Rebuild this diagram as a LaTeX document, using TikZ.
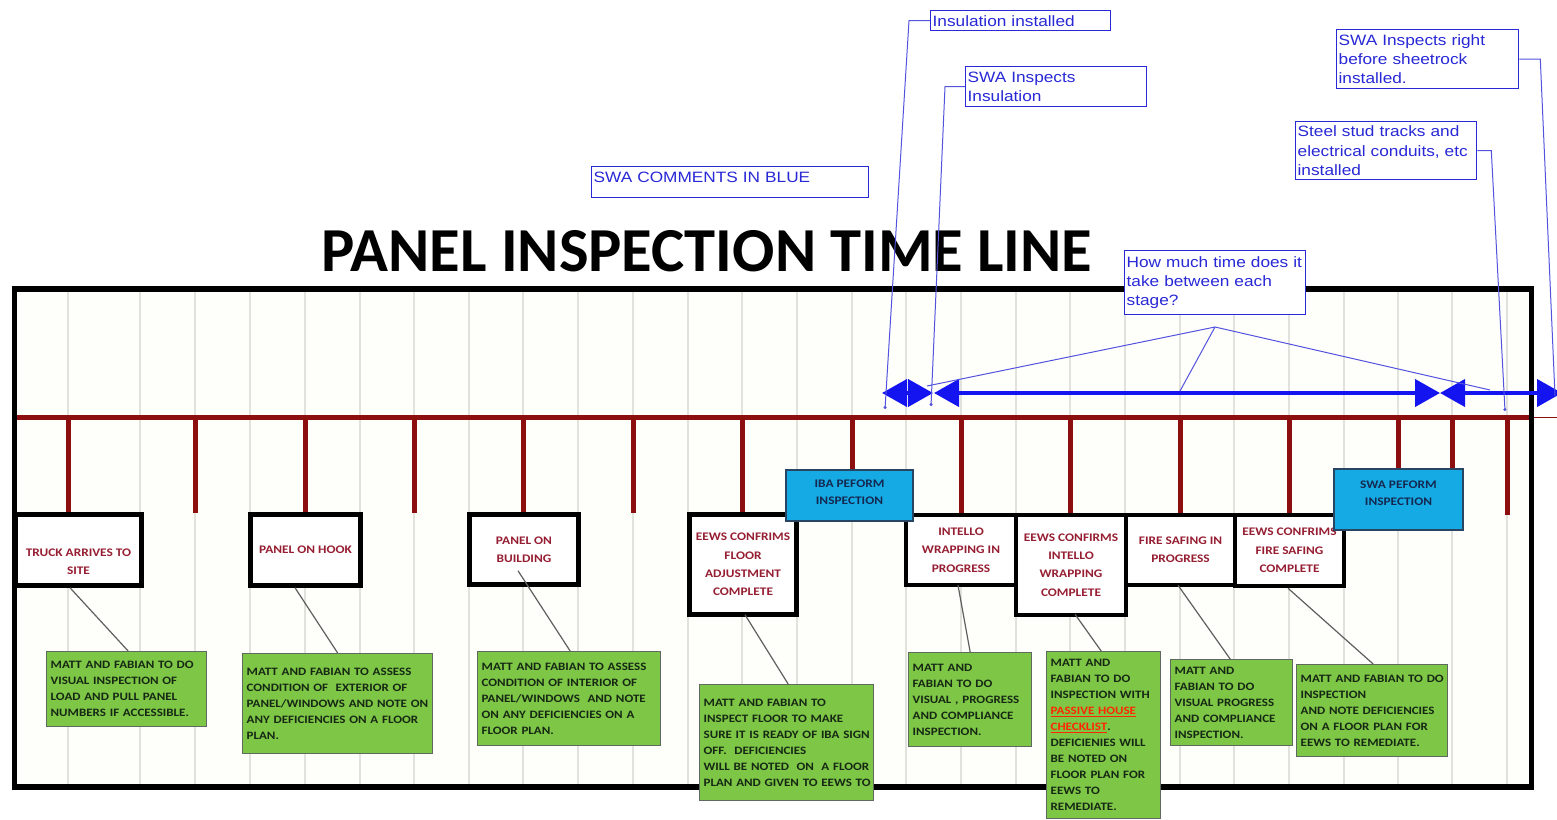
\documentclass[tikz,border=0pt]{standalone}
\usepackage{fontspec}
\setmainfont{Carlito}
\newfontfamily\nfont[FakeStretch=1.15]{Carlito}
\newfontfamily\afont[FakeStretch=1.15]{Liberation Sans}
\usetikzlibrary{arrows.meta}
\definecolor{boxred}{RGB}{150,30,50}
\definecolor{tlred}{RGB}{140,14,14}
\definecolor{notegreen}{RGB}{125,198,70}
\definecolor{notebd}{RGB}{95,105,95}
\definecolor{notetext}{RGB}{22,40,20}
\definecolor{inspblue}{RGB}{22,170,228}
\definecolor{inspborder}{RGB}{40,70,100}
\definecolor{insptext}{RGB}{20,40,80}
\definecolor{cmtblue}{RGB}{40,40,215}
\definecolor{arrblue}{RGB}{20,20,240}
\definecolor{gridc}{RGB}{226,226,220}
\definecolor{leadgray}{RGB}{95,95,95}
\definecolor{phred}{RGB}{255,40,0}
\definecolor{cream}{RGB}{254,254,250}
\tikzset{
  stage/.style={draw=black, line width=4.5pt, fill=white, inner sep=1pt, align=center, text=boxred,
    font=\nfont\bfseries\fontsize{11.6}{18.3}\selectfont},
  insp/.style={draw=inspborder, line width=2pt, fill=inspblue, inner sep=1pt, align=center, text=insptext,
    font=\nfont\bfseries\fontsize{11.6}{17}\selectfont},
  note/.style={draw=notebd, line width=1.3pt, fill=notegreen, anchor=north west, align=left,
    inner xsep=4pt, inner ysep=3pt, text=notetext, font=\nfont\bfseries\fontsize{11.3}{16}\selectfont},
  cmt/.style={draw=cmtblue, line width=1.3pt, fill=white, anchor=north west, align=left,
    inner xsep=2pt, inner ysep=1pt, text=cmtblue, font=\afont\fontsize{15}{19.2}\selectfont},
  lead/.style={draw=leadgray, line width=1.2pt},
  clead/.style={draw=cmtblue!80!white, line width=1pt},
  tlick/.style={draw=tlred, line width=5pt},
  gridln/.style={draw=gridc, line width=1.8pt},
  span/.style={draw=arrblue, line width=4pt,
    {Triangle[length=25pt,width=27pt]}-{Triangle[length=25pt,width=27pt]}},
}
\begin{document}
\begin{tikzpicture}[x=1pt,y=-1pt]
\useasboundingbox (0,0) rectangle (1557,819);
\fill[white] (0,0) rectangle (1557,819);
% frame interior and grid
\fill[cream] (14.5,289) rectangle (1531.5,787);
\foreach \x in {68,140,195,250,305,360,414,469,523,578,633,688,742,797,852,906,961,1016,1070,1125,1180,1234,1289,1344,1398,1452,1507}
  \draw[gridln] (\x,292) -- (\x,785);
% timeline
\draw[tlred, line width=5pt] (14.5,417.5) -- (1531.5,417.5);
\draw[tlred, line width=1.5pt] (1531.5,417.5) -- (1557,417.5);
\foreach \x/\e in {68/513,195/513,305/513,414/513,523/513,633/513,742/513,852/470,961/514,1070/514,1180/514,1289/514,1398/470,1452/470,1507/515}
  \draw[tlick] (\x,417.5) -- (\x,\e);
% frame
\draw[black, line width=5.5pt] (14.5,289) rectangle (1531.5,787);
% title
\node[font=\bfseries\fontsize{62.6}{70}\selectfont, anchor=base, inner sep=0pt] (title) at (707,271) {PANEL INSPECTION TIME LINE};
% stage boxes
\node[stage, minimum width=126pt, minimum height=71pt] (b1) at (78.5,550) {\rule{0pt}{31pt}TRUCK ARRIVES TO\\SITE};
\node[stage, minimum width=110pt, minimum height=71pt] (b2) at (305.5,550) {PANEL ON HOOK};
\node[stage, minimum width=109pt, minimum height=70pt] (b3) at (524,549.5) {PANEL ON\\BUILDING};
\node[stage, minimum width=107pt, minimum height=100pt] (b4) at (743,564.5) {EEWS CONFRIMS\\FLOOR\\ADJUSTMENT\\COMPLETE};
\node[stage, minimum width=110pt, minimum height=70pt] (b6) at (961,550) {INTELLO\\WRAPPING IN\\PROGRESS};
\node[stage, minimum width=110pt, minimum height=100pt] (b7) at (1071,565) {EEWS CONFIRMS\\INTELLO\\WRAPPING\\COMPLETE};
\node[stage, minimum width=109pt, minimum height=70pt] (b8) at (1180.5,550) {FIRE SAFING IN\\PROGRESS};
\node[stage, minimum width=109pt, minimum height=71pt] (b9) at (1289.5,550.5) {EEWS CONFRIMS\\FIRE SAFING\\COMPLETE};
% inspection boxes
\node[insp, minimum width=127pt, minimum height=51pt] (iba) at (849.5,495.5) {IBA PEFORM\\INSPECTION\rule[-6pt]{0pt}{0pt}};
\node[insp, minimum width=129pt, minimum height=61pt] (swa) at (1398.5,499.5) {SWA PEFORM\\INSPECTION\rule[-12pt]{0pt}{0pt}};
% green notes
\node[note, text width=152pt, minimum height=75pt] (g1) at (46,651) {\mbox{MATT AND FABIAN TO DO}\\VISUAL INSPECTION OF\\LOAD AND PULL PANEL\\\mbox{NUMBERS IF ACCESSIBLE.}};
\node[note, text width=182pt, minimum height=100pt] (g2) at (242,653) {\mbox{MATT AND FABIAN TO ASSESS}\\\mbox{CONDITION OF \ EXTERIOR OF}\\\mbox{PANEL/WINDOWS AND NOTE ON}\\\mbox{ANY DEFICIENCIES ON A FLOOR}\\PLAN.};
\node[note, text width=175pt, minimum height=94pt] (g3) at (477,651) {\mbox{MATT AND FABIAN TO ASSESS}\\\mbox{CONDITION OF INTERIOR OF}\\\mbox{PANEL/WINDOWS \ AND NOTE}\\\mbox{ON ANY DEFICIENCIES ON A}\\FLOOR PLAN.};
\node[note, text width=166pt, minimum height=116pt] (g4) at (699,684) {MATT AND FABIAN TO\\\mbox{INSPECT FLOOR TO MAKE}\\\mbox{SURE IT IS READY OF IBA SIGN}\\\mbox{OFF. \ DEFICIENCIES}\\\mbox{WILL BE NOTED \ ON \ A FLOOR}\\\mbox{PLAN AND GIVEN TO EEWS TO}};
\node[note, text width=115pt, minimum height=94pt] (g5) at (908,652) {MATT AND\\FABIAN TO DO\\\mbox{VISUAL , PROGRESS}\\\mbox{AND COMPLIANCE}\\INSPECTION.};
\node[note, text width=106pt, minimum height=167pt] (g6) at (1046,651) {MATT AND\\FABIAN TO DO\\\mbox{INSPECTION WITH}\\{\color{phred}\underline{PASSIVE HOUSE}}\\{\color{phred}\underline{CHECKLIST}}.\\\mbox{DEFICIENIES WILL}\\BE NOTED ON\\\mbox{FLOOR PLAN FOR}\\EEWS TO\\REMEDIATE.};
\node[note, text width=114pt, minimum height=86pt] (g7) at (1170,659) {MATT AND\\FABIAN TO DO\\\mbox{VISUAL PROGRESS}\\\mbox{AND COMPLIANCE}\\INSPECTION.};
\node[note, text width=143pt, minimum height=92pt] (g8) at (1296,664) {\mbox{MATT AND FABIAN TO DO}\\INSPECTION\\\mbox{AND NOTE DEFICIENCIES}\\\mbox{ON A FLOOR PLAN FOR}\\\mbox{EEWS TO REMEDIATE.}};
% leader lines
\draw[lead] ([shift={(-8.5,0)}]b1.south) -- ([shift={(1.5,0)}]g1.north);
\draw[lead] ([shift={(-10.5,0)}]b2.south) -- (g2.north);
\draw[lead] ([shift={(-6,-16)}]b3.south) -- ([shift={(1,0)}]g3.north);
\draw[lead] ([shift={(2,-2)}]b4.south) -- ([shift={(1.5,0)}]g4.north);
\draw[lead] ([shift={(-3,-2)}]b6.south) -- (g5.north);
\draw[lead] ([shift={(4,-3)}]b7.south) -- ([shift={(-2.5,0)}]g6.north);
\draw[lead] ([shift={(-2.5,-2)}]b8.south) -- ([shift={(-1.5,0)}]g7.north);
\draw[lead] ([shift={(-1.5,0)}]b9.south) -- ([shift={(1,0)}]g8.north);
% blue time spans
\coordinate (a1l) at (882,393);
\coordinate (a1r) at (933,393);
\coordinate (a2l) at (934,393);
\coordinate (a2r) at (1440,393);
\coordinate (a3l) at (1440,393);
\coordinate (a3r) at (1562,393);
\draw[span] (a1l) -- (a1r);
\draw[span] (a2l) -- (a2r);
\draw[span] (a3l) -- (a3r);
% SWA comments
\node[cmt, text width=176pt, minimum height=20pt] (c1) at (930,10) {Insulation installed};
\node[cmt, text width=177pt, minimum height=40pt] (c2) at (965,66) {SWA Inspects\\Insulation};
\node[cmt, text width=178pt, minimum height=59pt] (c3) at (1336,29) {SWA Inspects right\\before sheetrock\\installed.};
\node[cmt, text width=177pt, minimum height=58pt] (c4) at (1295,121) {Steel stud tracks and\\\mbox{electrical conduits, etc}\\installed};
\node[cmt, text width=177pt, minimum height=64pt] (c5) at (1124,250) {\mbox{How much time does it}\\take between each\\stage?};
\node[cmt, text width=273pt, minimum height=31pt, text depth=9pt] (c6) at (591,166) {SWA COMMENTS IN BLUE};
% comment leaders
\coordinate (p1) at (885,409);
\coordinate (p2) at (931,406);
\coordinate (p3) at (1555,396);
\coordinate (p4) at (1505,411);
\coordinate (q0) at (1215,327);
\coordinate (q1) at (927,386);
\coordinate (q2) at (1180,391);
\coordinate (q3) at (1490,390);
\draw[clead, -{Circle[length=3pt]}] (c1.west) -- ++(-21,0) -- (p1);
\draw[clead, -{Circle[length=3pt]}] (c2.west) -- ++(-20,0) -- (p2);
\draw[clead] (c3.east) -- ++(21,0) -- (p3);
\draw[clead, -{Circle[length=3pt]}] (c4.east) -- ++(14,0) -- (p4);
\draw[clead] (q1) -- (q0) -- (q3);
\draw[clead] (q0) -- (q2);
\end{tikzpicture}
\end{document}
